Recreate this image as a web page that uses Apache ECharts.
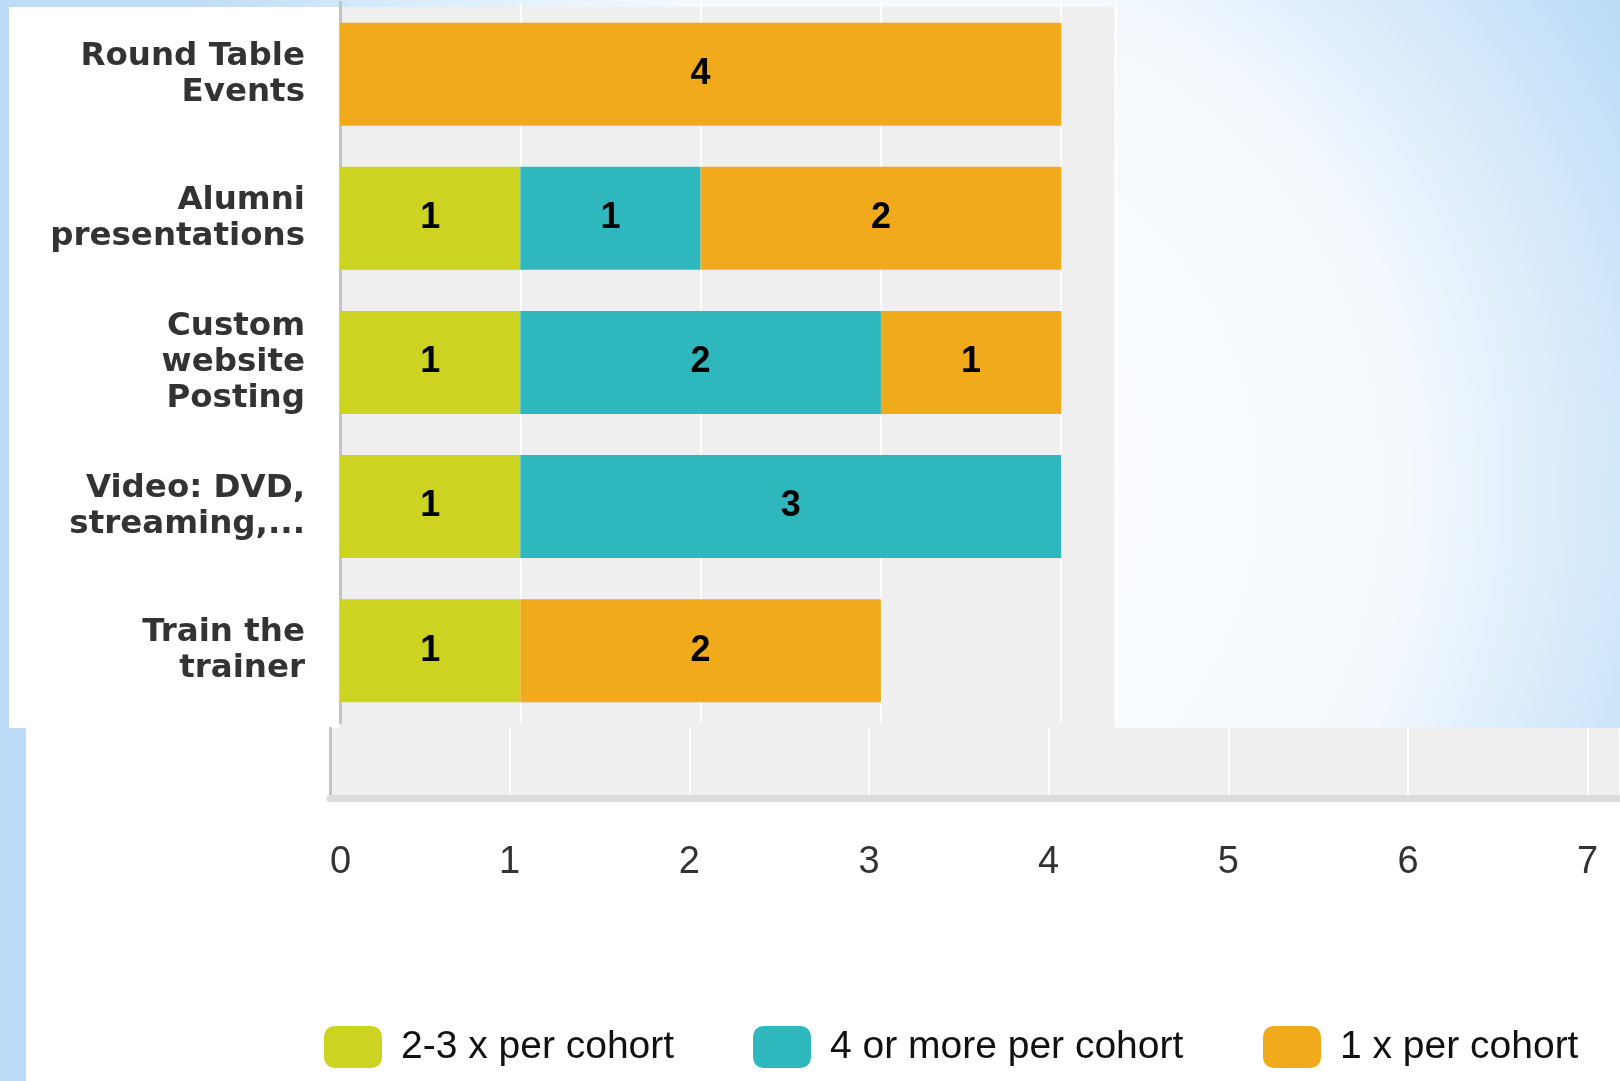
<!DOCTYPE html>
<html>
<head>
<meta charset="utf-8">
<script src="https://cdn.jsdelivr.net/npm/echarts@6/dist/echarts.min.js"></script>
<style>
html,body{margin:0;padding:0;background:#fff;}
#chart{width:1620px;height:1081px;}
</style>
</head>
<body>
<div id="chart"></div>
<script>
const categories = ['Round Table\nEvents', 'Alumni\npresentations', 'Custom\nwebsite\nPosting', 'Video: DVD,\nstreaming,...', 'Train the\ntrainer'];
const seriesNames = ['2-3 x per cohort', '4 or more per cohort', '1 x per cohort'];
const twoThreePerCohort = [0, 1, 1, 1, 1];
const fourOrMorePerCohort = [0, 1, 2, 3, 0];
const oncePerCohort = [4, 2, 1, 0, 2];
const xTickLabels = ['0', '1', '2', '3', '4', '5', '6', '7'];

const colors = ['#cdd321', '#2eb7bd', '#f2aa1d'];

const chart = echarts.init(document.getElementById('chart'), null, {renderer: 'canvas'});

function barSeries(name, values, color) {
  return {
    name: name,
    type: 'bar',
    stack: 'total',
    xAxisIndex: 0,
    yAxisIndex: 0,
    barWidth: 103,
    data: values.map(v => v === 0 ? null : v),
    itemStyle: {color: color},
    label: {
      show: true,
      position: 'inside',
      color: '#000',
      fontFamily: 'Liberation Sans, Arial, sans-serif',
      fontWeight: 'bold',
      fontSize: 36,
      formatter: p => (p.value ? String(p.value) : '')
    },
    emphasis: {disabled: true},
    animation: false
  };
}

function legendItem(idx, left) {
  return {
    show: true,
    left: left,
    top: 1021,
    itemWidth: 58,
    itemHeight: 42,
    icon: 'roundRect',
    itemGap: 0,
    data: [seriesNames[idx]],
    selectedMode: false,
    textStyle: {
      fontFamily: 'Liberation Sans, Arial, sans-serif',
      fontSize: 39,
      color: '#111',
      padding: [0, 0, 0, 14]
    }
  };
}

const option = {
  backgroundColor: {
    type: 'radial', x: 0.55, y: 0.45, r: 0.8,
    colorStops: [
      {offset: 0, color: '#ffffff'},
      {offset: 0.6, color: '#f4f9fe'},
      {offset: 1, color: '#bcdcf7'}
    ]
  },
  animation: false,
  graphic: [
    {type: 'rect', z: -10, shape: {x: 9, y: 7, width: 331, height: 721}, style: {fill: '#ffffff'}},
    {type: 'rect', z: -10, shape: {x: 340, y: 7, width: 774, height: 721}, style: {fill: '#efefef'}},
    {type: 'rect', z: -10, shape: {x: 26, y: 728, width: 1594, height: 353}, style: {fill: '#ffffff'}}
  ],
  legend: [
    legendItem(0, 319),
    legendItem(1, 748),
    legendItem(2, 1258)
  ],
  grid: [
    {left: 340, top: 2.2, width: 775.3, height: 720.5, containLabel: false},
    {left: 330, top: 728, right: 0, height: 70.5, containLabel: false, show: true, backgroundColor: '#efefef', borderWidth: 0}
  ],
  xAxis: [
    {
      gridIndex: 0, type: 'value', min: 0, max: 4.3, interval: 1,
      axisLine: {show: false}, axisTick: {show: false}, axisLabel: {show: false},
      splitLine: {show: true, lineStyle: {color: '#ffffff', width: 2}}
    },
    {
      gridIndex: 1, type: 'value', min: 0, max: 7.18, interval: 1,
      axisLine: {show: true, lineStyle: {color: '#dcdcdc', width: 7}},
      axisTick: {show: false},
      axisLabel: {
        show: true, margin: 45, fontSize: 38, color: '#333',
        fontFamily: 'Liberation Sans, Arial, sans-serif',
        showMaxLabel: false,
        alignMinLabel: 'left',
        formatter: v => (Number.isInteger(v) ? xTickLabels[v] : '')
      },
      splitLine: {show: true, lineStyle: {color: '#ffffff', width: 2}}
    }
  ],
  yAxis: [
    {
      gridIndex: 0, type: 'category', data: categories, inverse: true,
      axisLine: {show: true, lineStyle: {color: '#c4c4c4', width: 3}},
      axisTick: {show: false},
      splitLine: {show: false},
      axisLabel: {
        show: true, margin: 35, color: '#333',
        fontFamily: 'DejaVu Sans, Verdana, sans-serif',
        fontWeight: 'bold', fontSize: 32.5, lineHeight: 36, align: 'right'
      }
    },
    {
      gridIndex: 1, type: 'value', min: 0, max: 1,
      axisLine: {show: true, onZero: false, lineStyle: {color: '#c4c4c4', width: 3}},
      axisTick: {show: false}, axisLabel: {show: false}, splitLine: {show: false}
    }
  ],
  series: [
    barSeries(seriesNames[0], twoThreePerCohort, colors[0]),
    barSeries(seriesNames[1], fourOrMorePerCohort, colors[1]),
    barSeries(seriesNames[2], oncePerCohort, colors[2])
  ]
};

chart.setOption(option);
</script>
</body>
</html>
